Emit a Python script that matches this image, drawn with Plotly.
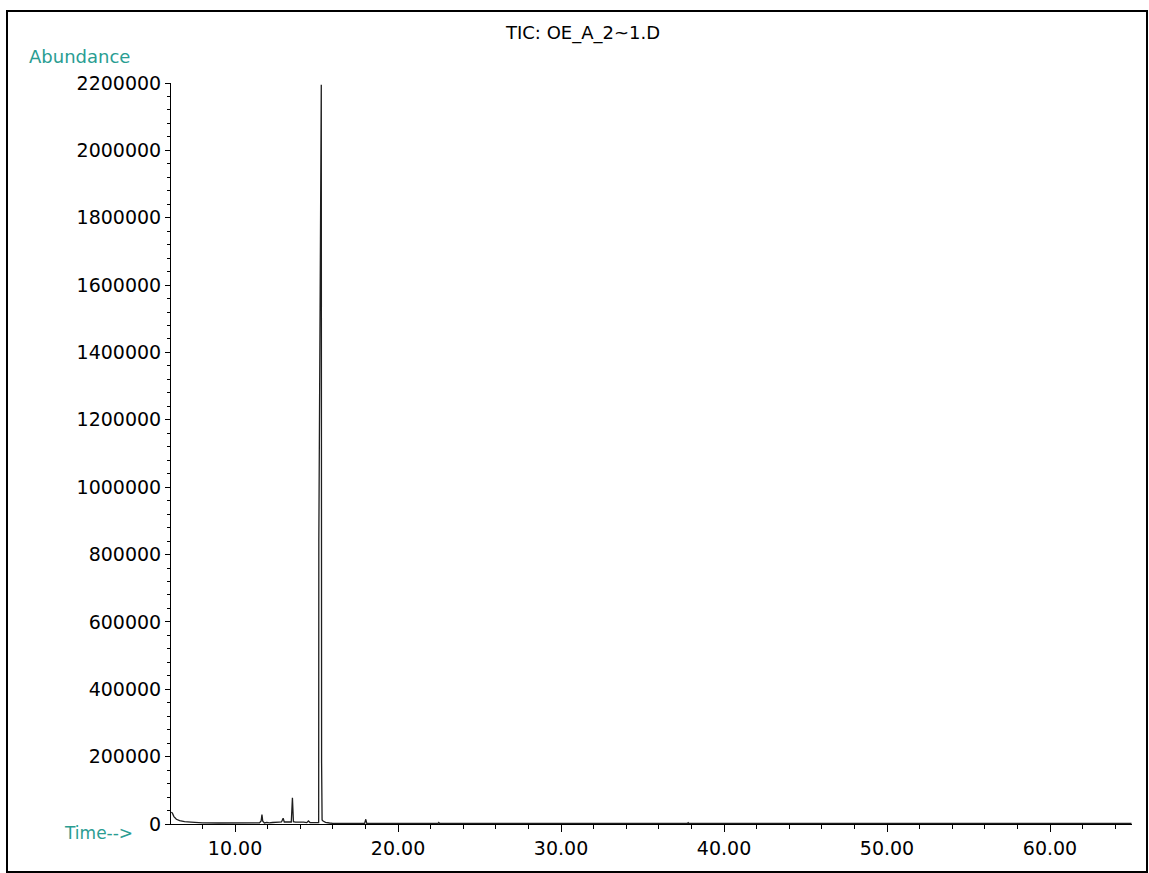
import plotly.graph_objects as go

# Total ion chromatogram: retention time (min) vs abundance
time_min = [
    6.08, 6.15, 6.25, 6.40, 6.60, 6.90, 7.30, 7.60, 8.00, 9.00, 10.00, 11.00,
    11.50, 11.60, 11.65, 11.70, 11.80, 11.95, 12.10, 12.30, 12.50, 12.70, 12.85,
    12.95, 13.02, 13.15, 13.30, 13.45, 13.52, 13.58, 13.70, 13.85, 14.00, 14.20,
    14.40, 14.50, 14.60, 14.80, 15.00, 15.13, 15.14, 15.22, 15.29, 15.31, 15.34,
    15.40, 15.55, 15.80, 16.00, 17.00, 17.95, 18.02, 18.08, 20.00, 22.45, 22.50,
    22.55, 30.00, 37.75, 37.80, 37.85, 45.00, 55.00, 65.00,
]
abundance = [
    35000, 33000, 22000, 14000, 10000, 7000, 5500, 4000, 3500, 3000, 3000, 3000,
    3200, 9000, 28000, 8000, 3000, 5000, 3500, 4500, 4000, 5500, 6000,
    17000, 6000, 5500, 5000, 6000, 78000, 7000, 5500, 6000, 4500, 5500,
    4000, 9000, 4500, 3500, 3500, 4000, 840000, 1510000, 2195000, 180000, 12000,
    9000, 5000, 3000, 2000, 1800, 2000, 14000, 2000, 1600, 1600, 4500,
    1600, 1500, 1500, 4000, 1500, 1500, 1500, 1500,
]

title_text = "TIC: OE_A_2~1.D"
y_title = "Abundance"
x_title = "Time-->"

teal = "#2a9d92"
font_family = "DejaVu Sans"

fig = go.Figure(
    go.Scatter(
        x=time_min,
        y=abundance,
        mode="lines",
        line=dict(color="#1e1e1e", width=1.3),
        hoverinfo="x+y",
    )
)

fig.update_layout(
    width=1149,
    height=873,
    margin=dict(l=171, r=17, t=83, b=49),
    paper_bgcolor="white",
    plot_bgcolor="white",
    showlegend=False,
    font=dict(family=font_family, size=17, color="black"),
    xaxis=dict(
        range=[6.07, 65.03],
        showgrid=False,
        zeroline=False,
        showline=True,
        linecolor="black",
        linewidth=1,
        ticks="outside",
        ticklen=7,
        tickwidth=1,
        tickcolor="black",
        tick0=0,
        dtick=10,
        tickformat=".2f",
        tickfont=dict(family=font_family, size=19),
        minor=dict(ticks="outside", ticklen=4, dtick=2, tick0=0, tickcolor="black"),
    ),
    yaxis=dict(
        range=[0, 2200000],
        showgrid=False,
        zeroline=False,
        showline=True,
        linecolor="black",
        linewidth=1,
        ticks="outside",
        ticklen=5,
        tickwidth=1,
        tickcolor="black",
        tick0=0,
        dtick=200000,
        tickformat="d",
        tickfont=dict(family=font_family, size=19),
        minor=dict(ticks="outside", ticklen=3, dtick=40000, tick0=0, tickcolor="black"),
    ),
    annotations=[
        dict(
            text=title_text, xref="paper", yref="paper",
            x=(582 - 171) / 961, y=(824 - 33) / 741,
            xanchor="center", yanchor="middle", showarrow=False,
            font=dict(family=font_family, size=18, color="black"),
        ),
        dict(
            text=y_title, xref="paper", yref="paper",
            x=(27 - 171) / 961, y=(824 - 57) / 741,
            xanchor="left", yanchor="middle", showarrow=False,
            font=dict(family=font_family, size=18, color=teal),
        ),
        dict(
            text=x_title, xref="paper", yref="paper",
            x=(62 - 171) / 961, y=(824 - 833) / 741,
            xanchor="left", yanchor="middle", showarrow=False,
            font=dict(family=font_family, size=17, color=teal),
        ),
    ],
    shapes=[
        dict(
            type="rect", xref="paper", yref="paper",
            x0=(7 - 171) / 961, x1=(1147 - 171) / 961,
            y0=(824 - 872) / 741, y1=(824 - 11) / 741,
            line=dict(color="black", width=2),
            fillcolor="rgba(0,0,0,0)",
            layer="below",
        )
    ],
)

fig.write_html("out.html")
